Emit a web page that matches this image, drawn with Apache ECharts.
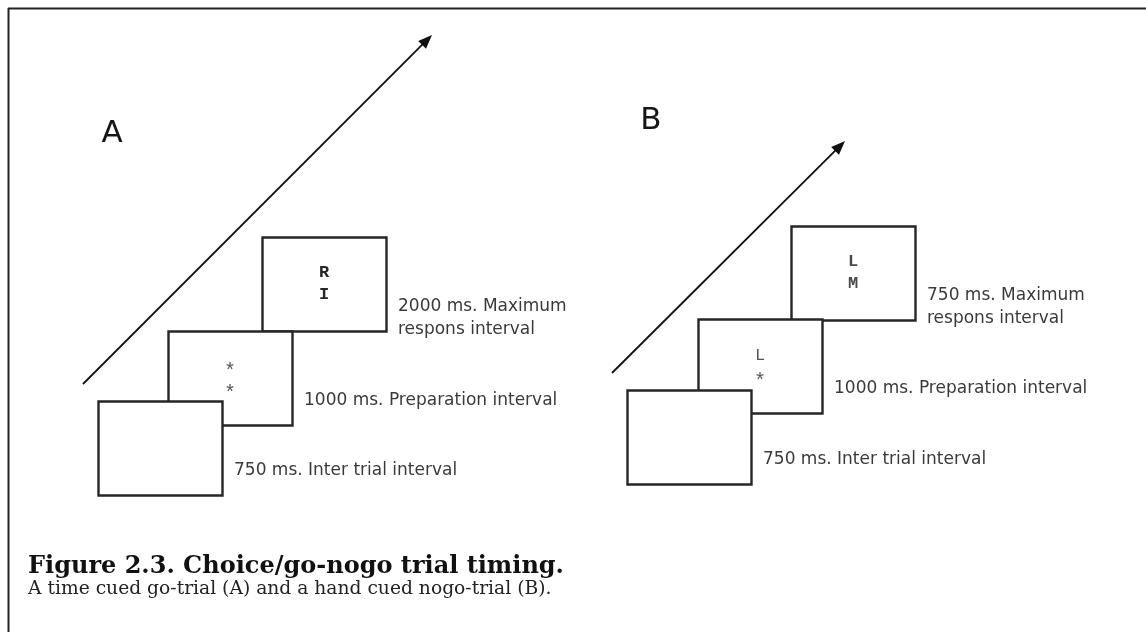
<!DOCTYPE html>
<html>
<head>
<meta charset="utf-8">
<script src="https://cdn.jsdelivr.net/npm/echarts@6/dist/echarts.min.js"></script>
<style>
  html, body { margin: 0; padding: 0; background: #fff; }
  #chart { width: 1146px; height: 632px; }
</style>
</head>
<body>
<div id="chart"></div>
<script>
// panel letters and where they sit
var panelNames = ['A', 'B'];
var panelX = [112, 651];
var panelY = [134, 121];

// time arrows: [start, tip] per panel
var arrowA = [[83, 384], [432, 35]];
var arrowB = [[612, 373], [845, 141]];

// stage boxes (top-left corner) per panel: inter trial, preparation, response
var boxLeftA = [98, 168, 262];
var boxTopA = [401, 331, 237];
var boxLeftB = [627, 698, 791];
var boxTopB = [390, 319, 226];

var labelsA = ['750 ms. Inter trial interval', '1000 ms. Preparation interval', '2000 ms. Maximum\nrespons interval'];
var labelsB = ['750 ms. Inter trial interval', '1000 ms. Preparation interval', '750 ms. Maximum\nrespons interval'];

var cuesA = [[], ['*', '*'], ['R', 'I']];
var cuesB = [[], ['L', '*'], ['L', 'M']];

var captionTitle = 'Figure 2.3. Choice/go-nogo trial timing.';
var captionText = 'A time cued go-trial (A) and a hand cued nogo-trial (B).';

var BOX_W = 124, BOX_H = 94;

// later stages first, so the earlier box lies on top of the next one
var boxData = [];
for (var i = 2; i >= 0; i--) {
    boxData.push({ value: [boxLeftA[i], boxTopA[i]], label: labelsA[i], cues: cuesA[i], stage: i, panel: 0 });
    boxData.push({ value: [boxLeftB[i], boxTopB[i]], label: labelsB[i], cues: cuesB[i], stage: i, panel: 1 });
}

function renderBox(params, api) {
    var item = boxData[params.dataIndex];
    var p = api.coord([api.value(0), api.value(1)]);
    var s = api.size([BOX_W, BOX_H]);
    var w = s[0], h = s[1];
    var children = [{
        type: 'rect',
        shape: { x: Math.round(p[0]) + 0.5, y: Math.round(p[1]) + 0.5, width: w, height: h },
        style: { fill: '#fff', stroke: '#262626', lineWidth: 2.4 }
    }, {
        type: 'text',
        style: {
            x: p[0] + w + 12, y: p[1] + h - 36,
            text: item.label,
            font: '17px "DejaVu Sans"',
            lineHeight: 23,
            fill: '#3a3a3a',
            textAlign: 'left', textVerticalAlign: 'top'
        }
    }];
    var cx = p[0] + w / 2, cy = p[1] + h / 2;
    item.cues.forEach(function (c, k) {
        var bold = item.stage === 2;
        var star = c === '*';
        var yy = cy + (k === 0 ? -11 : 11) + (star ? 5 : 0);
        children.push({
            type: 'text',
            style: {
                x: cx, y: yy, text: c,
                font: (bold ? 'bold ' : '') + (star ? '20px' : '17px') + ' "Liberation Mono"',
                fill: bold ? (item.panel === 0 ? '#262626' : '#4a4a4a') : '#555',
                textAlign: 'center', textVerticalAlign: 'middle'
            }
        });
    });
    return { type: 'group', children: children };
}

function renderArrow(params, api) {
    var a = api.coord([api.value(0), api.value(1)]);
    var b = api.coord([api.value(2), api.value(3)]);
    var dx = b[0] - a[0], dy = b[1] - a[1];
    var len = Math.sqrt(dx * dx + dy * dy);
    var ux = dx / len, uy = dy / len;
    var hl = 14, hw = 5.5;
    var bx = b[0] - ux * hl, by = b[1] - uy * hl;
    return {
        type: 'group',
        children: [{
            type: 'line',
            shape: { x1: a[0], y1: a[1], x2: bx + ux * 2, y2: by + uy * 2 },
            style: { stroke: '#111', lineWidth: 1.8 }
        }, {
            type: 'polygon',
            shape: { points: [[b[0], b[1]], [bx - uy * hw, by + ux * hw], [bx + uy * hw, by - ux * hw]] },
            style: { fill: '#111' }
        }]
    };
}

function renderPanel(params, api) {
    var p = api.coord([api.value(0), api.value(1)]);
    return {
        type: 'text',
        style: {
            x: p[0], y: p[1], text: panelNames[params.dataIndex],
            font: '31px "DejaVu Sans"', fill: '#151515',
            textAlign: 'center', textVerticalAlign: 'middle'
        }
    };
}

var chart = echarts.init(document.getElementById('chart'), null, { renderer: 'canvas' });
chart.setOption({
    backgroundColor: '#fff',
    animation: false,
    grid: { left: 0, right: 0, top: 0, bottom: 0 },
    xAxis: { type: 'value', min: 0, max: 1146, show: false },
    yAxis: { type: 'value', min: 0, max: 632, inverse: true, show: false },
    graphic: [
        { type: 'line', shape: { x1: 8, y1: 8.5, x2: 1146, y2: 8.5 }, style: { stroke: '#222', lineWidth: 2 } },
        { type: 'line', shape: { x1: 8.5, y1: 8, x2: 8.5, y2: 632 }, style: { stroke: '#222', lineWidth: 2 } },
        {
            type: 'text', left: 28, top: 555,
            style: { text: captionTitle, font: 'bold 24px "DejaVu Serif"', fill: '#111' }
        },
        {
            type: 'text', left: 28, top: 580,
            style: { text: captionText, font: '18.7px "DejaVu Serif"', fill: '#222' }
        }
    ],
    series: [{
        type: 'custom',
        renderItem: renderArrow,
        data: [arrowA[0].concat(arrowA[1]), arrowB[0].concat(arrowB[1])]
    }, {
        type: 'custom',
        renderItem: renderPanel,
        data: panelNames.map(function (n, i) { return [panelX[i], panelY[i]]; })
    }, {
        type: 'custom',
        renderItem: renderBox,
        data: boxData.map(function (d) { return d.value; })
    }]
});
</script>
</body>
</html>
